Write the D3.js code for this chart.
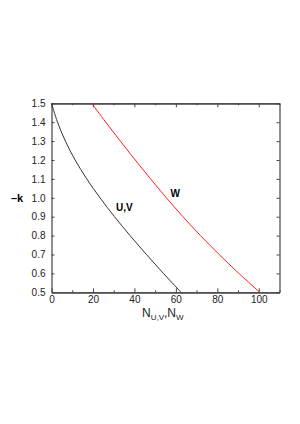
<!DOCTYPE html>
<html><head><meta charset="utf-8">
<script src="https://cdn.jsdelivr.net/npm/d3@7"></script>
<style>body{margin:0;background:#fff}svg{display:block}text{font-family:"Liberation Sans",Arial,sans-serif}</style>
</head><body>
<script>
const kValues = [1.5,1.4,1.3,1.2,1.1,1.0,0.9,0.8,0.7,0.6,0.5];
const nUV = [0,2.9,6.7,11.4,17.0,23.4,30.4,37.9,45.8,54.0,62.5];
const nW  = [19.4,26.2,33.2,40.4,47.8,55.4,63.4,71.9,80.9,90.4,100.5];
const xMajorTicks = [0,20,40,60,80,100];
const xMinorTicks = [10,30,50,70,90,110];
const yTicks = [0.5,0.6,0.7,0.8,0.9,1.0,1.1,1.2,1.3,1.4,1.5];

const W=300,H=424;
const L=51.5,R=279.5,T=103.3,B=292.3;
const svg=d3.select("body").append("svg").attr("width",W).attr("height",H);
const x=d3.scaleLinear().domain([0,110]).range([L,R]);
const y=d3.scaleLinear().domain([0.5,1.5]).range([B,T]);

const axCol="#444";
svg.append("g").attr("transform",`translate(0,${B})`)
 .call(d3.axisBottom(x).tickValues(xMajorTicks).tickSizeInner(-4).tickSizeOuter(0).tickPadding(4).tickFormat(d3.format("d")));
svg.append("g").attr("transform",`translate(0,${B})`)
 .call(d3.axisBottom(x).tickValues(xMinorTicks).tickSizeInner(-2).tickSizeOuter(0).tickFormat(""));
svg.append("g").attr("transform",`translate(0,${T})`)
 .call(d3.axisTop(x).tickValues(xMajorTicks).tickSizeInner(-4).tickSizeOuter(0).tickFormat(""));
svg.append("g").attr("transform",`translate(0,${T})`)
 .call(d3.axisTop(x).tickValues(xMinorTicks).tickSizeInner(-2).tickSizeOuter(0).tickFormat(""));
svg.append("g").attr("transform",`translate(${L},0)`)
 .call(d3.axisLeft(y).tickValues(yTicks).tickSizeInner(-3).tickSizeOuter(0).tickPadding(6).tickFormat(d3.format(".1f")));
svg.append("g").attr("transform",`translate(${R},0)`)
 .call(d3.axisRight(y).tickValues(yTicks).tickSizeInner(-3).tickSizeOuter(0).tickFormat(""));

svg.selectAll(".domain").attr("stroke",axCol).attr("stroke-width",1.2);
svg.selectAll(".tick line").attr("stroke",axCol);
svg.selectAll(".tick text").attr("font-size",10).attr("fill","#222").attr("font-family","Liberation Sans, Arial, sans-serif");

const line=d3.line().curve(d3.curveCatmullRom);
svg.append("path").attr("d",line(kValues.map((k,i)=>[x(nUV[i]),y(k)])))
 .attr("fill","none").attr("stroke","#333").attr("stroke-width",1);
svg.append("path").attr("d",line(kValues.map((k,i)=>[x(nW[i]),y(k)])))
 .attr("fill","none").attr("stroke","#ff2020").attr("stroke-width",1);

svg.append("text").attr("x",116).attr("y",210.5).attr("font-size",10).attr("font-weight","bold").text("U,V");
svg.append("text").attr("x",170.5).attr("y",197).attr("font-size",10).attr("font-weight","bold").text("W");
svg.append("text").attr("x",11).attr("y",202).attr("font-size",11).attr("font-weight","bold").text("–k");

const xl=svg.append("text").attr("x",142).attr("y",317.3).attr("font-size",12).attr("fill","#222");
xl.append("tspan").text("N");
xl.append("tspan").attr("font-size",8).attr("dy",2.5).text("U,V");
xl.append("tspan").attr("dy",-2.5).text(",N");
xl.append("tspan").attr("font-size",8).attr("dy",2.5).text("W");
</script>
</body></html>
